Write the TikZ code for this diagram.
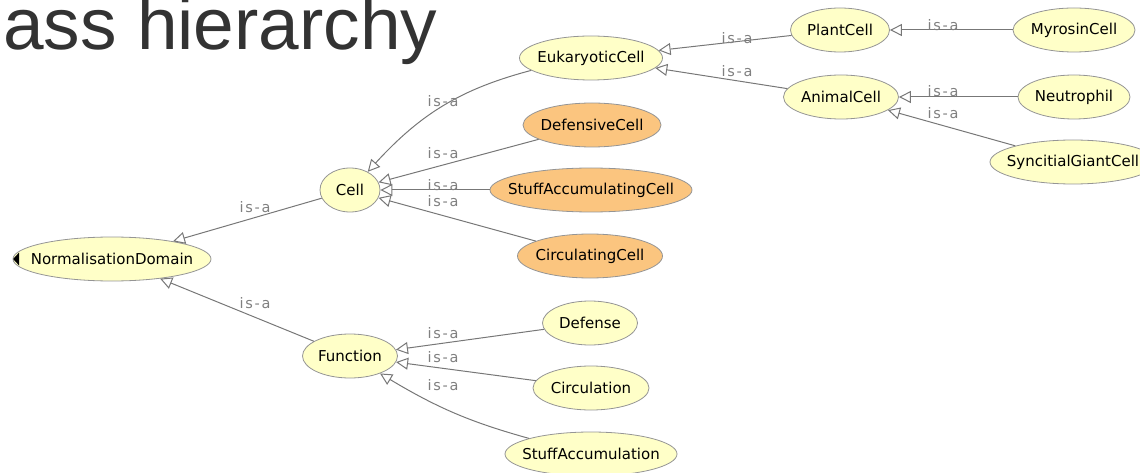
\documentclass[tikz,border=0pt]{standalone}
\usepackage{fontspec}
\newfontfamily\clsfont{DejaVu Sans}
\newfontfamily\isafont[LetterSpace=12]{DejaVu Sans}
\newfontfamily\titlefont{Liberation Sans}
\usetikzlibrary{arrows.meta, bending, shapes.geometric}
\definecolor{clsfill}{HTML}{FFFFC8}
\definecolor{defnfill}{HTML}{FBC57F}
\definecolor{clsline}{HTML}{959595}
\definecolor{edgegray}{HTML}{777777}
\definecolor{labelgray}{HTML}{808080}
\definecolor{titlegray}{HTML}{333333}

\begin{document}
\begin{tikzpicture}[x=1pt, y=-1pt,
every node/.style = {inner sep=0pt},
cls/.style  = {ellipse, draw=clsline, fill=clsfill, line width=0.8pt,
               inner xsep=-20pt, minimum height=44pt, minimum width=#1,
               font=\clsfont\fontsize{15}{18}\selectfont},
defn/.style = {cls=#1, fill=defnfill},
isa/.style  = {anchor=base, text=labelgray,
               font=\isafont\fontsize{14.5}{16}\selectfont},
subclass/.style = {draw=edgegray, line width=1pt,
                   -{Triangle[length=12pt, width=12pt, fill=white]}},
                    ]
\useasboundingbox (0,0) rectangle (1140,473);
%---
\node[anchor=base west, text=titlegray,
      font=\titlefont\fontsize{73}{86}\selectfont] (title) at (3,50) {ass hierarchy};
%-------
\node[cls=198]  (normDomain)  at (112,259)  {NormalisationDomain};
\node[cls=60]   (cell)        at (350,190)  {Cell};
\node[cls=95]   (function)    at (350,356)  {Function};
%
\node[cls=143]  (eukCell)     at (591,58)   {EukaryoticCell};
\node[defn=138] (defCell)     at (592,125)  {DefensiveCell};
\node[defn=202] (stuffCell)   at (591,190)  {StuffAccumulatingCell};
\node[defn=145] (circCell)    at (590,256)  {CirculatingCell};
\node[cls=95]   (defense)     at (590,323)  {Defense};
\node[cls=116]  (circulation) at (591,388)  {Circulation};
\node[cls=172]  (stuffAcc)    at (591,454)  {StuffAccumulation};
%
\node[cls=99]   (plantCell)   at (840,30)   {PlantCell};
\node[cls=115]  (animalCell)  at (841,97)   {AnimalCell};
\node[cls=122]  (myrosinCell) at (1074,30)  {MyrosinCell};
\node[cls=112]  (neutrophil)  at (1074,97)  {Neutrophil};
\node[cls=166]  (syncCell)    at (1073,162) {SyncitialGiantCell};
%
\fill ([xshift=0.5pt] normDomain.west) -- ++(6,-6.5) -- ++(0,13) -- cycle;
% edges
\path[subclass]
        (cell)        edge (normDomain)
        (function)    edge (normDomain)
%---
        (eukCell)     edge[bend right=17] (cell)
        (defCell)     edge (cell)
        (stuffCell)   edge (cell)
        (circCell)    edge (cell)
%---
        (defense)     edge (function)
        (circulation) edge (function)
        (stuffAcc)    edge[bend left=8] (function)
%---
        (plantCell)   edge (eukCell)
        (animalCell)  edge (eukCell)
        (myrosinCell) edge (plantCell)
        (neutrophil)  edge (animalCell)
        (syncCell)    edge (animalCell);
% labels
\node[isa] (isaCell)     at (255,212) {is-a};
\node[isa] (isaFunction) at (255,308) {is-a};
\node[isa] (isaEuk)      at (443,107) {is-a};
\node[isa] (isaDef)      at (443,159) {is-a};
\node[isa] (isaStuff)    at (443,191) {is-a};
\node[isa] (isaCirc)     at (443,207) {is-a};
\node[isa] (isaDefense)  at (443,338) {is-a};
\node[isa] (isaCirculat) at (443,362) {is-a};
\node[isa] (isaStuffAcc) at (443,390) {is-a};
\node[isa] (isaPlant)    at (737,44)  {is-a};
\node[isa] (isaAnimal)   at (737,77)  {is-a};
\node[isa] (isaMyrosin)  at (943,31)  {is-a};
\node[isa] (isaNeutro)   at (943,97)  {is-a};
\node[isa] (isaSync)     at (943,119) {is-a};
\end{tikzpicture}
\end{document}
